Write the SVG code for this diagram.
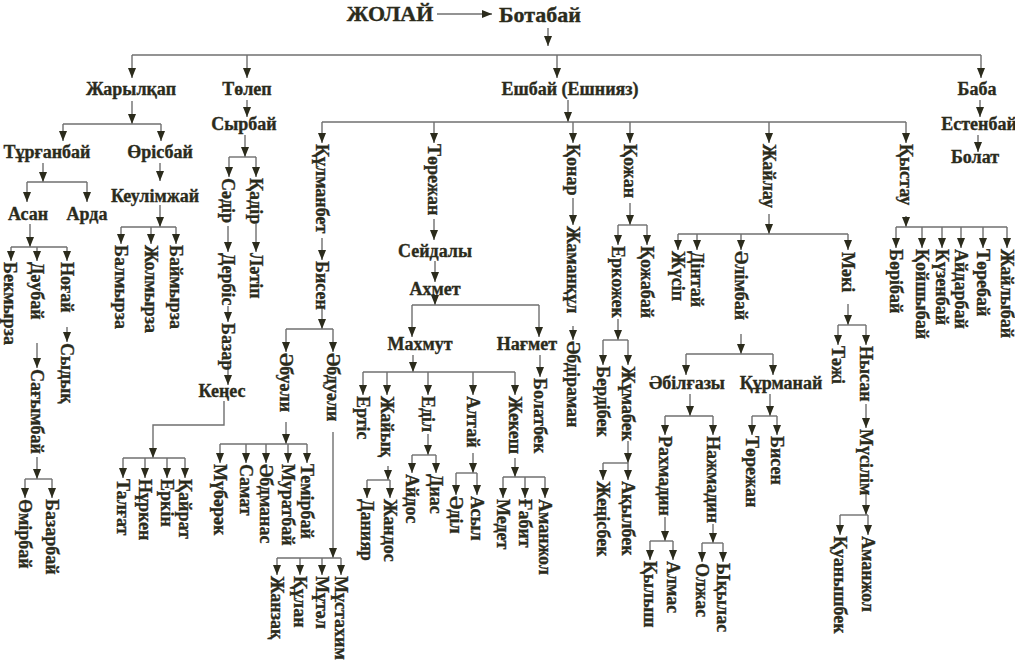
<svg xmlns="http://www.w3.org/2000/svg" width="1015" height="667" viewBox="0 0 1015 667">
<style>
text{font-family:"Liberation Serif","Times New Roman",serif;font-weight:bold;fill:#2b2b1c;stroke:#2b2b1c;stroke-width:0.35;font-size:18px}
.h{text-anchor:middle}
.t{font-size:22px}
.v{dominant-baseline:central}
.c path{fill:none;stroke:#6f6f6f;stroke-width:1.4}
.c .a{marker-end:url(#ah)}
</style>
<defs>
<marker id="ah" viewBox="0 0 10 8" refX="10" refY="4" markerWidth="10" markerHeight="8" orient="auto" markerUnits="userSpaceOnUse"><path d="M0,0L10,4L0,8z" fill="#2b2b1c"/></marker>
</defs>
<rect width="1015" height="667" fill="#fff"/>
<g id="connectors" class="c">
<path class="a" d="M437,14H492"/>
<path class="a" d="M548,28V46"/>
<path d="M132,55H981"/>
<path class="a" d="M132,55V78"/><path class="a" d="M247,55V78"/><path class="a" d="M557,55V78"/><path class="a" d="M981,55V78"/>
<path class="a" d="M132,101V124"/><path d="M63,124H161"/><path class="a" d="M63,124V141"/><path class="a" d="M161,124V141"/>
<path class="a" d="M43,163V182"/><path d="M27,182H87"/><path class="a" d="M27,182V202"/><path class="a" d="M87,182V202"/>
<path class="a" d="M30,224V247"/><path d="M11,247H67"/><path class="a" d="M11,247V261"/><path class="a" d="M37,247V261"/><path class="a" d="M67,247V261"/>
<path class="a" d="M67,327V342"/>
<path class="a" d="M37,343V368"/>
<path class="a" d="M37,457V479"/><path d="M25,479H52"/><path class="a" d="M25,479V498"/><path class="a" d="M52,479V498"/>
<path class="a" d="M160,163V181"/>
<path class="a" d="M160,205V227"/><path d="M121,227H176"/><path class="a" d="M121,227V244"/><path class="a" d="M151,227V244"/><path class="a" d="M176,227V244"/>
<path class="a" d="M247,100V117"/>
<path class="a" d="M245,135V157"/><path d="M229,157H256"/><path class="a" d="M229,157V177"/><path class="a" d="M256,157V177"/>
<path class="a" d="M228,226V252"/><path class="a" d="M228,306V322"/><path class="a" d="M228,364V385"/>
<path class="a" d="M256,224V252"/>
<path class="a" d="M224,401V425H153V458"/><path d="M123,458H185"/><path class="a" d="M123,458V478"/><path class="a" d="M145,458V478"/><path class="a" d="M167,458V478"/><path class="a" d="M185,458V478"/>
<path class="a" d="M568,100V122"/><path d="M322,122H906"/>
<path class="a" d="M322,122V143"/><path class="a" d="M434,122V143"/><path class="a" d="M573,122V143"/><path class="a" d="M630,122V143"/><path class="a" d="M769,122V143"/><path class="a" d="M906,122V143"/>
<path class="a" d="M322,238V260"/><path class="a" d="M322,306V329"/><path d="M286,329H333"/><path class="a" d="M286,329V352"/><path class="a" d="M333,329V352"/>
<path class="a" d="M286,422V444"/><path d="M220,444H307"/><path class="a" d="M220,444V463"/><path class="a" d="M246,444V463"/><path class="a" d="M266,444V463"/><path class="a" d="M288,444V463"/><path class="a" d="M307,444V463"/>
<path class="a" d="M333,432V558"/><path d="M277,558H341"/><path class="a" d="M277,558V575"/><path class="a" d="M300,558V575"/><path class="a" d="M322,558V575"/><path class="a" d="M341,558V575"/>
<path class="a" d="M434,219V240"/><path class="a" d="M435,261V282"/><path class="a" d="M435,299V305"/><path d="M412,305H539"/><path class="a" d="M412,305V337"/><path class="a" d="M539,305V337"/>
<path class="a" d="M413,355V372"/><path d="M363,372H515"/><path class="a" d="M363,372V395"/><path class="a" d="M387,372V395"/><path class="a" d="M428,372V395"/><path class="a" d="M473,372V395"/><path class="a" d="M515,372V395"/>
<path class="a" d="M388,466V480"/><path d="M367,480H390"/><path class="a" d="M367,480V498"/><path class="a" d="M390,480V498"/>
<path class="a" d="M428,434V455"/><path d="M412,455H436"/><path class="a" d="M412,455V473"/><path class="a" d="M436,455V473"/>
<path class="a" d="M473,453V473"/><path d="M456,473H477"/><path class="a" d="M456,473V495"/><path class="a" d="M477,473V495"/>
<path class="a" d="M515,458V477"/><path d="M503,477H545"/><path class="a" d="M503,477V498"/><path class="a" d="M525,477V498"/><path class="a" d="M545,477V498"/>
<path class="a" d="M540,355V377"/>
<path class="a" d="M573,198V225"/><path class="a" d="M573,326V340"/>
<path class="a" d="M630,203V225"/><path d="M618,225H647"/><path class="a" d="M618,225V245"/><path class="a" d="M647,225V245"/>
<path class="a" d="M618,319V340"/><path d="M603,340H628"/><path class="a" d="M603,340V365"/><path class="a" d="M628,340V365"/>
<path class="a" d="M628,441V463"/><path d="M603,463H628"/><path class="a" d="M603,463V480"/><path class="a" d="M628,463V480"/>
<path class="a" d="M769,214V234"/><path d="M678,234H848"/><path class="a" d="M678,234V250"/><path class="a" d="M697,234V250"/><path class="a" d="M741,234V250"/><path class="a" d="M848,234V250"/>
<path class="a" d="M741,334V354"/><path d="M686,354H773"/><path class="a" d="M686,354V375"/><path class="a" d="M773,354V375"/>
<path class="a" d="M690,394V416"/><path d="M665,416H713"/><path class="a" d="M665,416V435"/><path class="a" d="M713,416V435"/>
<path class="a" d="M665,517V541"/><path d="M650,541H673"/><path class="a" d="M650,541V560"/><path class="a" d="M673,541V560"/>
<path class="a" d="M713,524V543"/><path d="M702,543H723"/><path class="a" d="M702,543V562"/><path class="a" d="M723,543V562"/>
<path class="a" d="M770,394V416"/><path d="M752,416H777"/><path class="a" d="M752,416V435"/><path class="a" d="M777,416V435"/>
<path class="a" d="M848,304V325"/><path d="M838,325H866"/><path class="a" d="M838,325V345"/><path class="a" d="M866,325V345"/>
<path class="a" d="M866,404V428"/>
<path class="a" d="M866,493V515"/><path d="M840,515H868"/><path class="a" d="M840,515V535"/><path class="a" d="M868,515V535"/>
<path class="a" d="M906,216V227"/><path d="M896,227H1007"/><path class="a" d="M896,227V248"/><path class="a" d="M922,227V248"/><path class="a" d="M942,227V248"/><path class="a" d="M961,227V248"/><path class="a" d="M983,227V248"/><path class="a" d="M1007,227V248"/>
<path class="a" d="M980,100V117"/><path class="a" d="M978,135V152"/>
</g>
<g id="n-zholai"><text class="h t" x="390" y="21">ЖОЛАЙ</text></g>
<g id="n-botabai"><text class="h t" x="540" y="22">Ботабай</text></g>
<g id="n-zharylkap"><text class="h" x="131" y="95">Жарылқап</text></g>
<g id="n-tolep"><text class="h" x="247" y="95">Төлеп</text></g>
<g id="n-eshbai"><text class="h" x="570" y="95">Ешбай (Ешнияз)</text></g>
<g id="n-baba"><text class="h" x="977" y="95">Баба</text></g>
<g id="n-syrbai"><text class="h" x="244" y="130">Сырбай</text></g>
<g id="n-estenbai"><text class="h" x="979" y="130">Естенбай</text></g>
<g id="n-bolat"><text class="h" x="975" y="163">Болат</text></g>
<g id="n-turganbai"><text class="h" x="47" y="158">Тұрғанбай</text></g>
<g id="n-orisbai"><text class="h" x="160" y="158">Өрісбай</text></g>
<g id="n-keulimzhai"><text class="h" x="155" y="202">Кеулімжай</text></g>
<g id="n-asan"><text class="h" x="28" y="220">Асан</text></g>
<g id="n-arda"><text class="h" x="87" y="220">Арда</text></g>
<g id="n-seidaly"><text class="h" x="435" y="257">Сейдалы</text></g>
<g id="n-akhmet"><text class="h" x="435" y="295">Ахмет</text></g>
<g id="n-makhmut"><text class="h" x="420" y="350">Махмут</text></g>
<g id="n-nagmet"><text class="h" x="527" y="350">Нағмет</text></g>
<g id="n-kenes"><text class="h" x="222" y="397">Кеңес</text></g>
<g id="n-abilgazy"><text class="h" x="687" y="389">Әбілғазы</text></g>
<g id="n-kurmanai"><text class="h" x="781" y="389">Құрманай</text></g>
<g id="n-bekmyrza"><text class="v" transform="translate(10,262) rotate(90)">Бекмырза</text></g>
<g id="n-daubai"><text class="v" transform="translate(37,262) rotate(90)">Дәубай</text></g>
<g id="n-nogai"><text class="v" transform="translate(67,262) rotate(90)">Ноғай</text></g>
<g id="n-sydyk"><text class="v" transform="translate(67,343) rotate(90)">Сыдық</text></g>
<g id="n-sagymbai"><text class="v" transform="translate(37,369) rotate(90)">Сағымбай</text></g>
<g id="n-omirbai"><text class="v" transform="translate(25,499) rotate(90)">Өмірбай</text></g>
<g id="n-bazarbai"><text class="v" transform="translate(52,499) rotate(90)">Базарбай</text></g>
<g id="n-balmyrza"><text class="v" transform="translate(121,245) rotate(90)">Балмырза</text></g>
<g id="n-zholmyrza"><text class="v" transform="translate(151,245) rotate(90)">Жолмырза</text></g>
<g id="n-baimyrza"><text class="v" transform="translate(176,245) rotate(90)">Баймырза</text></g>
<g id="n-sadir"><text class="v" transform="translate(228,178) rotate(90)">Сәдір</text></g>
<g id="n-kadir"><text class="v" transform="translate(256,178) rotate(90)">Қадір</text></g>
<g id="n-derbis"><text class="v" transform="translate(228,253) rotate(90)">Дербіс</text></g>
<g id="n-bazar"><text class="v" transform="translate(228,323) rotate(90)">Базар</text></g>
<g id="n-latip"><text class="v" transform="translate(256,253) rotate(90)">Ләтіп</text></g>
<g id="n-talgat"><text class="v" transform="translate(123,479) rotate(90)">Талғат</text></g>
<g id="n-nurken"><text class="v" transform="translate(145,479) rotate(90)">Нұркен</text></g>
<g id="n-erkin"><text class="v" transform="translate(167,479) rotate(90)">Еркін</text></g>
<g id="n-kairat"><text class="v" transform="translate(185,479) rotate(90)">Қайрат</text></g>
<g id="n-kulmanbet"><text class="v" transform="translate(322,144) rotate(90)">Құлманбет</text></g>
<g id="n-bisen1"><text class="v" transform="translate(322,261) rotate(90)">Бисен</text></g>
<g id="n-abuali"><text class="v" transform="translate(286,353) rotate(90)">Әбуәли</text></g>
<g id="n-abduali"><text class="v" transform="translate(333,353) rotate(90)">Әбдуәли</text></g>
<g id="n-mubarak"><text class="v" transform="translate(220,464) rotate(90)">Мүбәрәк</text></g>
<g id="n-samat"><text class="v" transform="translate(246,464) rotate(90)">Самат</text></g>
<g id="n-abdmanas"><text class="v" transform="translate(266,464) rotate(90)">Әбдманас</text></g>
<g id="n-muratbai"><text class="v" transform="translate(288,464) rotate(90)">Муратбай</text></g>
<g id="n-temirbai"><text class="v" transform="translate(307,464) rotate(90)">Темірбай</text></g>
<g id="n-zhanzak"><text class="v" transform="translate(277,576) rotate(90)">Жанзақ</text></g>
<g id="n-kulan"><text class="v" transform="translate(300,576) rotate(90)">Құлан</text></g>
<g id="n-mutal"><text class="v" transform="translate(322,576) rotate(90)">Мұтәл</text></g>
<g id="n-mustakhim"><text class="v" transform="translate(341,576) rotate(90)">Мұстахим</text></g>
<g id="n-torezhan1"><text class="v" transform="translate(434,144) rotate(90)">Төрежан</text></g>
<g id="n-ertis"><text class="v" transform="translate(363,396) rotate(90)">Ертіс</text></g>
<g id="n-zhaiyk"><text class="v" transform="translate(387,396) rotate(90)">Жайық</text></g>
<g id="n-edil"><text class="v" transform="translate(428,396) rotate(90)">Еділ</text></g>
<g id="n-altai"><text class="v" transform="translate(473,396) rotate(90)">Алтай</text></g>
<g id="n-zhekesh"><text class="v" transform="translate(515,396) rotate(90)">Жекеш</text></g>
<g id="n-daniyar"><text class="v" transform="translate(367,499) rotate(90)">Данияр</text></g>
<g id="n-zhandos"><text class="v" transform="translate(390,499) rotate(90)">Жандос</text></g>
<g id="n-aidos"><text class="v" transform="translate(412,474) rotate(90)">Айдос</text></g>
<g id="n-dias"><text class="v" transform="translate(436,474) rotate(90)">Диас</text></g>
<g id="n-adil"><text class="v" transform="translate(456,496) rotate(90)">Әділ</text></g>
<g id="n-asyl"><text class="v" transform="translate(477,496) rotate(90)">Асыл</text></g>
<g id="n-medet"><text class="v" transform="translate(503,499) rotate(90)">Медет</text></g>
<g id="n-gabit"><text class="v" transform="translate(525,499) rotate(90)">Ғабит</text></g>
<g id="n-amanzhol1"><text class="v" transform="translate(545,499) rotate(90)">Аманжол</text></g>
<g id="n-bolatbek"><text class="v" transform="translate(540,378) rotate(90)">Болатбек</text></g>
<g id="n-konar"><text class="v" transform="translate(573,144) rotate(90)">Қонар</text></g>
<g id="n-zhamankul"><text class="v" transform="translate(573,226) rotate(90)">Жаманқұл</text></g>
<g id="n-abdiraman"><text class="v" transform="translate(573,341) rotate(90)">Әбдіраман</text></g>
<g id="n-kozhan"><text class="v" transform="translate(630,144) rotate(90)">Қожан</text></g>
<g id="n-erkozhek"><text class="v" transform="translate(618,246) rotate(90)">Еркожек</text></g>
<g id="n-kozhabai"><text class="v" transform="translate(647,246) rotate(90)">Қожабай</text></g>
<g id="n-berdibek"><text class="v" transform="translate(603,366) rotate(90)">Бердібек</text></g>
<g id="n-zhumabek"><text class="v" transform="translate(628,366) rotate(90)">Жұмабек</text></g>
<g id="n-zhenisbek"><text class="v" transform="translate(603,481) rotate(90)">Жеңісбек</text></g>
<g id="n-akylbek"><text class="v" transform="translate(628,481) rotate(90)">Ақылбек</text></g>
<g id="n-zhailau"><text class="v" transform="translate(769,144) rotate(90)">Жайлау</text></g>
<g id="n-zhusip"><text class="v" transform="translate(678,251) rotate(90)">Жүсіп</text></g>
<g id="n-dintai"><text class="v" transform="translate(697,251) rotate(90)">Дінтай</text></g>
<g id="n-alimbai"><text class="v" transform="translate(741,251) rotate(90)">Әлімбай</text></g>
<g id="n-maki"><text class="v" transform="translate(848,252) rotate(90)">Мәкі</text></g>
<g id="n-rakhmadin"><text class="v" transform="translate(665,436) rotate(90)">Рахмадин</text></g>
<g id="n-nazhmadin"><text class="v" transform="translate(713,436) rotate(90)">Нажмадин</text></g>
<g id="n-kylysh"><text class="v" transform="translate(650,561) rotate(90)">Қылыш</text></g>
<g id="n-almas"><text class="v" transform="translate(673,561) rotate(90)">Алмас</text></g>
<g id="n-olzhas"><text class="v" transform="translate(702,563) rotate(90)">Олжас</text></g>
<g id="n-ykylas"><text class="v" transform="translate(723,563) rotate(90)">Ықылас</text></g>
<g id="n-torezhan2"><text class="v" transform="translate(752,436) rotate(90)">Төрежан</text></g>
<g id="n-bisen2"><text class="v" transform="translate(777,436) rotate(90)">Бисен</text></g>
<g id="n-tazhi"><text class="v" transform="translate(838,346) rotate(90)">Тәжі</text></g>
<g id="n-nysan"><text class="v" transform="translate(866,346) rotate(90)">Нысан</text></g>
<g id="n-musilim"><text class="v" transform="translate(866,429) rotate(90)">Мүсілім</text></g>
<g id="n-kuanyshbek"><text class="v" transform="translate(840,536) rotate(90)">Қуанышбек</text></g>
<g id="n-amanzhol2"><text class="v" transform="translate(868,536) rotate(90)">Аманжол</text></g>
<g id="n-kystau"><text class="v" transform="translate(906,144) rotate(90)">Қыстау</text></g>
<g id="n-boribai"><text class="v" transform="translate(896,249) rotate(90)">Бөрібай</text></g>
<g id="n-koishybai"><text class="v" transform="translate(922,249) rotate(90)">Қойшыбай</text></g>
<g id="n-kuzenbai"><text class="v" transform="translate(942,249) rotate(90)">Күзенбай</text></g>
<g id="n-aidarbai"><text class="v" transform="translate(961,249) rotate(90)">Айдарбай</text></g>
<g id="n-torebai"><text class="v" transform="translate(983,249) rotate(90)">Төребай</text></g>
<g id="n-zhailybai"><text class="v" transform="translate(1007,249) rotate(90)">Жайлыбай</text></g>
</svg>
